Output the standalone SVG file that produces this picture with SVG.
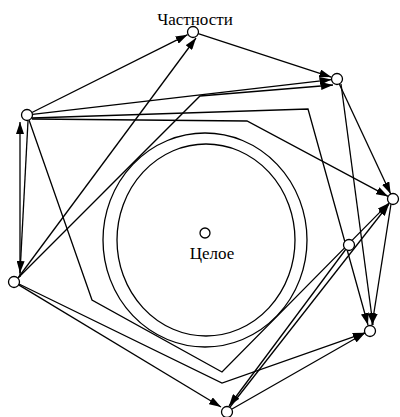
<svg xmlns="http://www.w3.org/2000/svg" width="400" height="417" viewBox="0 0 400 417">
<defs>
<marker id="ah" markerUnits="userSpaceOnUse" markerWidth="12" markerHeight="8" refX="12" refY="4" orient="auto">
<path d="M0,0 L12,4 L0,8 z" fill="#000"/>
</marker>
<style>
.e{fill:none;stroke:#000;stroke-width:1.3;marker-end:url(#ah)}
.n{fill:#fff;stroke:#000;stroke-width:1.3}
.ring{fill:none;stroke:#000;stroke-width:1.3}
.t{font-family:"Liberation Serif","Times New Roman",serif;font-size:17px;fill:#000}
</style>
</defs>
<rect width="400" height="417" fill="#fff"/>
<g id="whole-rings">
<ellipse class="ring" cx="205" cy="240" rx="102" ry="107"/>
<ellipse class="ring" cx="206" cy="240" rx="89" ry="96"/>
</g>
<g id="connectors">
<path class="e" d="M31.9,112.5 L187.6,34.7"/>
<path class="e" d="M198.2,33.7 L331.3,77.1"/>
<path class="e" d="M32.5,114.4 L331.5,79.6"/>
<path class="e" d="M18,278 L196,38"/>
<path class="e" d="M18,278 L200,96 L333,85"/>
<path class="e" d="M32,118 L308,109 L368,325"/>
<path class="e" d="M32,119 L247,121 L388.1,196.4"/>
<path class="e" d="M20,277 L20,122"/>
<path class="e" d="M28,121 L20,273"/>
<path class="e" d="M29,120 L92,300 L222,372 L389.1,202.9"/>
<path class="e" d="M339.3,84 L390.7,194"/>
<path class="e" d="M341,84 L373,325"/>
<path class="e" d="M391,204 L372,325"/>
<path class="e" d="M19,284 L222,383 L364.8,332.8"/>
<path class="e" d="M18.7,284.9 L221,407"/>
<path class="e" d="M346,249 L229,406"/>
<path class="e" d="M230,407 L389,204"/>
<path class="e" d="M232,409 L365,333"/>
</g>
<g id="node-T"><circle class="n" cx="193" cy="32" r="5.5"/><text class="t" x="195" y="25" text-anchor="middle">Частности</text></g>
<g id="node-TR"><circle class="n" cx="337" cy="79" r="5.5"/></g>
<g id="node-L"><circle class="n" cx="27" cy="115" r="5.5"/></g>
<g id="node-R"><circle class="n" cx="393" cy="199" r="5.5"/></g>
<g id="node-IR"><circle class="n" cx="349" cy="245" r="5.5"/></g>
<g id="node-LB"><circle class="n" cx="14" cy="282" r="5.5"/></g>
<g id="node-BR"><circle class="n" cx="370" cy="331" r="5.5"/></g>
<g id="node-B"><circle class="n" cx="227" cy="412" r="5.5"/></g>
<g id="node-C"><circle class="n" cx="205" cy="233" r="5"/><text class="t" x="212" y="259" text-anchor="middle">Целое</text></g>
</svg>
